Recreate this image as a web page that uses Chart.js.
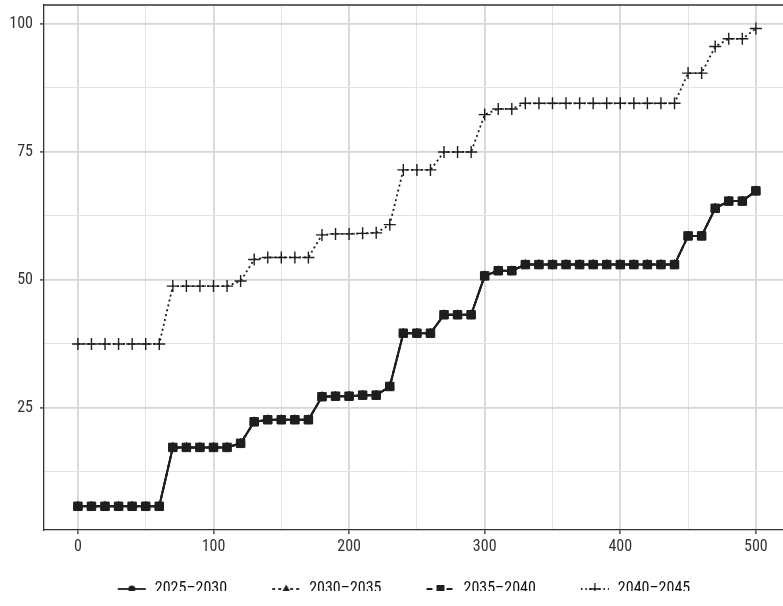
<!DOCTYPE html>
<html>
<head>
<meta charset="utf-8">
<script src="https://cdn.jsdelivr.net/npm/chart.js@4"></script>
<style>
  body { margin: 0; background: #fff; }
  #wrap { width: 783px; height: 606px; }
</style>
</head>
<body>
<div id="wrap"><canvas id="lineChart"></canvas></div>
<script>
// data
const xValues = [0, 10, 20, 30, 40, 50, 60, 70, 80, 90, 100, 110, 120, 130, 140, 150, 160, 170, 180, 190, 200,
  210, 220, 230, 240, 250, 260, 270, 280, 290, 300, 310, 320, 330, 340, 350, 360, 370, 380, 390, 400,
  410, 420, 430, 440, 450, 460, 470, 480, 490, 500];

// the first three periods sit on top of each other
const s2025_2030 = [5.8, 5.8, 5.8, 5.8, 5.8, 5.8, 5.8, 17.3, 17.3, 17.3, 17.3, 17.3, 18.1, 22.3, 22.7, 22.7, 22.7, 22.7,
  27.2, 27.3, 27.3, 27.5, 27.5, 29.2, 39.6, 39.6, 39.6, 43.2, 43.2, 43.2, 50.8, 51.8, 51.8,
  53.0, 53.0, 53.0, 53.0, 53.0, 53.0, 53.0, 53.0, 53.0, 53.0, 53.0, 53.0, 58.6, 58.6, 64.0, 65.4, 65.4, 67.4];
const s2030_2035 = [5.8, 5.8, 5.8, 5.8, 5.8, 5.8, 5.8, 17.3, 17.3, 17.3, 17.3, 17.3, 18.1, 22.3, 22.7, 22.7, 22.7, 22.7,
  27.2, 27.3, 27.3, 27.5, 27.5, 29.2, 39.6, 39.6, 39.6, 43.2, 43.2, 43.2, 50.8, 51.8, 51.8,
  53.0, 53.0, 53.0, 53.0, 53.0, 53.0, 53.0, 53.0, 53.0, 53.0, 53.0, 53.0, 58.6, 58.6, 64.0, 65.4, 65.4, 67.4];
const s2035_2040 = [5.8, 5.8, 5.8, 5.8, 5.8, 5.8, 5.8, 17.3, 17.3, 17.3, 17.3, 17.3, 18.1, 22.3, 22.7, 22.7, 22.7, 22.7,
  27.2, 27.3, 27.3, 27.5, 27.5, 29.2, 39.6, 39.6, 39.6, 43.2, 43.2, 43.2, 50.8, 51.8, 51.8,
  53.0, 53.0, 53.0, 53.0, 53.0, 53.0, 53.0, 53.0, 53.0, 53.0, 53.0, 53.0, 58.6, 58.6, 64.0, 65.4, 65.4, 67.4];
const s2040_2045 = [37.5, 37.5, 37.5, 37.5, 37.5, 37.5, 37.5, 48.8, 48.8, 48.8, 48.8, 48.8, 49.8, 54.0, 54.4, 54.4, 54.4, 54.4,
  58.8, 59.0, 59.0, 59.1, 59.2, 60.8, 71.5, 71.5, 71.5, 75.0, 75.0, 75.0, 82.3, 83.4, 83.4,
  84.5, 84.5, 84.5, 84.5, 84.5, 84.5, 84.5, 84.5, 84.5, 84.5, 84.5, 84.5, 90.4, 90.4, 95.6, 97.1, 97.1, 99.1];
const seriesLabels = ['2025–2030', '2030–2035', '2035–2040', '2040–2045'];

const xTicks = [0, 50, 100, 150, 200, 250, 300, 350, 400, 450, 500];
const xLabels = [0, 100, 200, 300, 400, 500];
const yTicks = [12.5, 25, 37.5, 50, 62.5, 75, 87.5, 100];
const yLabels = [25, 50, 75, 100];

const INK = '#1e1e1e';
const FONT = "'Liberation Sans Narrow', 'Roboto Condensed', 'Roboto', sans-serif";
Chart.defaults.font.family = FONT;
Chart.defaults.font.size = 16;
Chart.defaults.color = '#333';

// legend key: little line + marker, like the ggplot keys
// (blank space on the left of the key gives the wide gap between items)
const KEY_W = 54;
function makeKey(dash, style) {
  const c = document.createElement('canvas');
  c.width = KEY_W; c.height = 14;
  const g = c.getContext('2d');
  const x0 = KEY_W - 30, cx = x0 + 15;
  g.strokeStyle = INK; g.fillStyle = INK; g.lineWidth = 1.8;
  g.setLineDash(dash);
  g.beginPath(); g.moveTo(x0 + 1, 7); g.lineTo(x0 + 29, 7); g.stroke();
  g.setLineDash([]);
  g.beginPath();
  if (style === 'circle') { g.arc(cx, 7, 3.5, 0, Math.PI * 2); g.fill(); }
  if (style === 'triangle') { g.moveTo(cx, 2.5); g.lineTo(cx + 4.5, 10.5); g.lineTo(cx - 4.5, 10.5); g.closePath(); g.fill(); }
  if (style === 'rect') { g.rect(cx - 4, 3, 8, 8); g.fill(); }
  if (style === 'cross') { g.lineWidth = 1.3; g.moveTo(cx - 6, 7); g.lineTo(cx + 6, 7); g.moveTo(cx, 1); g.lineTo(cx, 13); g.stroke(); }
  return c;
}

const styles = [
  { pt: 'circle', r: 4, dash: [], keyDash: [] },
  { pt: 'triangle', r: 5, dash: [5, 3], keyDash: [3, 3] },
  { pt: 'rect', r: 6, dash: [], keyDash: [6, 4] },
  { pt: 'cross', r: 6, dash: [2, 3], keyDash: [1.5, 3] },
];
const allSeries = [s2025_2030, s2030_2035, s2035_2040, s2040_2045];

const datasets = allSeries.map((s, i) => ({
  label: seriesLabels[i],
  data: s.map((v, j) => ({ x: xValues[j], y: v })),
  borderColor: INK,
  backgroundColor: INK,
  borderWidth: i === 3 ? 1.8 : 2,
  borderDash: styles[i].dash,
  pointStyle: styles[i].pt,
  pointRadius: styles[i].r,
  pointBorderWidth: i === 3 ? 1.4 : 1,
  pointBackgroundColor: INK,
  pointBorderColor: INK,
  order: 3 - i,
  tension: 0,
}));

// top border of the panel
const frame = {
  id: 'frame',
  afterDatasetsDraw(chart) {
    const { ctx, chartArea: a } = chart;
    ctx.save();
    ctx.strokeStyle = '#333';
    ctx.lineWidth = 1.3;
    ctx.beginPath();
    ctx.moveTo(a.left, a.top);
    ctx.lineTo(a.right, a.top);
    ctx.stroke();
    ctx.restore();
  }
};

const chart_ctx = document.getElementById('lineChart');
var lineChart = new Chart(chart_ctx, {
  type: 'line',
  data: { datasets: datasets },
  plugins: [frame],
  options: {
    responsive: true,
    maintainAspectRatio: false,
    animation: false,
    layout: { autoPadding: false, padding: { top: 5, right: 0, left: 0, bottom: 15 } },
    plugins: {
      tooltip: { enabled: false },
      legend: {
        position: 'bottom',
        maxHeight: 30,
        labels: {
          usePointStyle: true,
          pointStyleWidth: KEY_W,
          padding: 20,
          color: '#111',
          font: { size: 16 },
          generateLabels: (chart) => chart.data.datasets.map((d, i) => ({
            text: d.label,
            pointStyle: makeKey(styles[i].keyDash, styles[i].pt),
            fontColor: '#111',
            lineWidth: 0,
            datasetIndex: i,
          })),
        },
      },
    },
    scales: {
      x: {
        type: 'linear',
        min: -25,
        max: 520,
        afterBuildTicks: (s) => { s.ticks = xTicks.map(v => ({ value: v })); },
        afterFit: (s) => { s.height = 31; s.paddingLeft = 0; s.paddingRight = 0; },
        ticks: {
          autoSkip: false,
          maxRotation: 0,
          padding: 3,
          color: '#333',
          callback: (v) => xLabels.includes(v) ? String(v) : '',
        },
        grid: {
          color: (c) => xLabels.includes(c.tick.value) ? '#d6d6d6' : '#e3e3e3',
          lineWidth: (c) => xLabels.includes(c.tick.value) ? 1.8 : 1,
          tickColor: (c) => xLabels.includes(c.tick.value) ? '#333' : 'rgba(0,0,0,0)',
          tickWidth: 1.3,
          tickLength: 4,
        },
        border: { display: true, color: '#333', width: 1.3 },
      },
      y: {
        min: 1.17,
        max: 103.7,
        afterBuildTicks: (s) => { s.ticks = yTicks.map(v => ({ value: v })); },
        afterFit: (s) => { s.width = 44; s.paddingTop = 0; s.paddingBottom = 0; },
        ticks: {
          autoSkip: false,
          padding: 7,
          color: '#333',
          callback: (v) => yLabels.includes(v) ? String(v) : '',
        },
        grid: {
          color: (c) => yLabels.includes(c.tick.value) ? '#d6d6d6' : '#e3e3e3',
          lineWidth: (c) => yLabels.includes(c.tick.value) ? 1.8 : 1,
          tickColor: (c) => yLabels.includes(c.tick.value) ? '#333' : 'rgba(0,0,0,0)',
          tickWidth: 1.3,
          tickLength: 4,
        },
        border: { display: true, color: '#333', width: 1.3 },
      },
    },
  },
});
</script>
</body>
</html>
